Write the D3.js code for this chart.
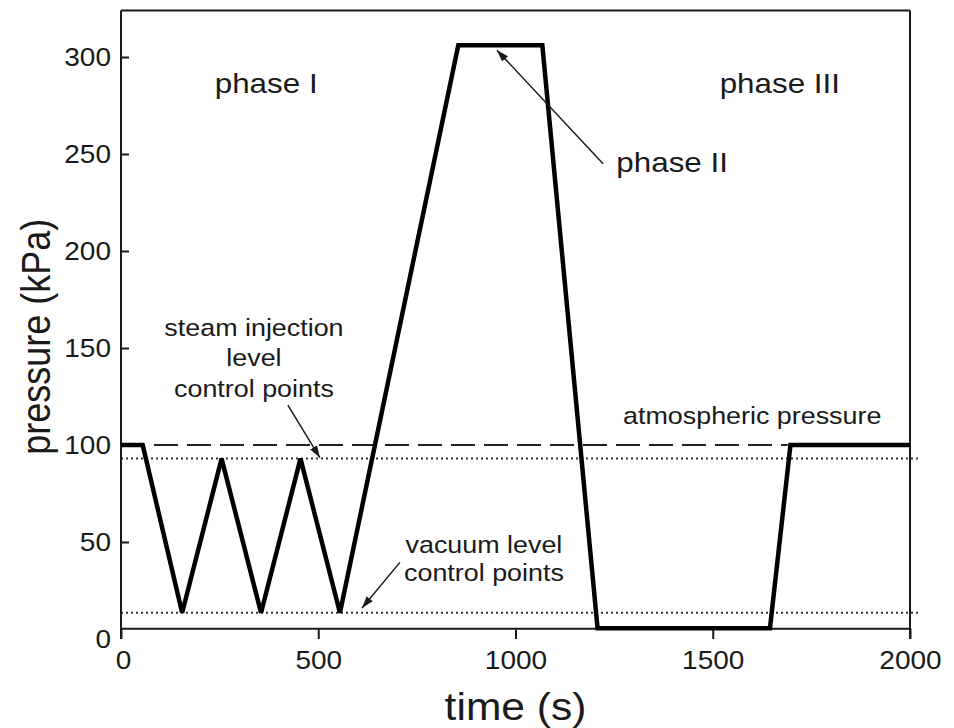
<!DOCTYPE html>
<html>
<head>
<meta charset="utf-8">
<script src="https://cdn.jsdelivr.net/npm/d3@7"></script>
<style>
  body { margin: 0; background: #fff; }
  text { font-family: "Liberation Sans", Arial, sans-serif; fill: #1a1a1a; }
</style>
</head>
<body>
<div id="chart"></div>
<script>
// pressure profile (time in s, pressure in kPa)
const times     = [0, 55, 155, 255, 355, 455, 555, 855, 1068, 1208, 1645, 1697, 2000];
const pressures = [100, 100, 13.5, 93, 13.5, 93, 13.5, 306, 306, 5.5, 5.5, 100, 100];

const xTicks = [0, 500, 1000, 1500, 2000];
const yTicks = [0, 50, 100, 150, 200, 250, 300];

const atmospheric = 100;
const atmosphericEnd = 1690;
const steamLevel = 93;
const vacuumLevel = 13.5;
const axisFloor = 5.5;
const yTop = 324;

// annotation arrows, [fromTime, fromPressure, toTime, toPressure]
const arrows = [
    [1222, 245, 953, 303.5],
    [423, 120.5, 504, 93.5],
    [707, 39.5, 611, 16]
];

// labels: [text, time, pressure, fontSize]
const labels = [
    ['phase I', 368, 281.5, 28],
    ['phase III', 1670, 281.5, 28],
    ['phase II', 1397, 240.5, 28],
    ['steam injection', 337, 156, 24],
    ['level', 337, 140.5, 24],
    ['control points', 337, 125, 24],
    ['atmospheric pressure', 1600, 111, 24],
    ['vacuum level', 920, 44.5, 24],
    ['control points', 920, 30, 24]
];

const width = 954;
const height = 728;
const stretch = 1.12;

const svg = d3.select('#chart').append('svg')
    .attr('width', width)
    .attr('height', height);

const x = d3.scaleLinear().domain([0, 2000]).range([121, 910]);
const y = d3.scaleLinear().domain([0, 300]).range([639, 57]);

svg.append('defs').append('marker')
    .attr('id', 'head')
    .attr('viewBox', '0 0 12 8')
    .attr('refX', 12)
    .attr('refY', 4)
    .attr('markerWidth', 12)
    .attr('markerHeight', 8)
    .attr('markerUnits', 'userSpaceOnUse')
    .attr('orient', 'auto')
    .append('path')
    .attr('d', 'M0,0 L12,4 L0,8 Z')
    .attr('fill', '#1a1a1a');

// reference lines
svg.append('line')
    .attr('x1', x(0)).attr('x2', x(atmosphericEnd))
    .attr('y1', y(atmospheric)).attr('y2', y(atmospheric))
    .attr('stroke', '#222').attr('stroke-width', 2)
    .attr('stroke-dasharray', '24,9');

[steamLevel, vacuumLevel].forEach(v => {
    svg.append('line')
        .attr('x1', x(0)).attr('x2', x(2020))
        .attr('y1', y(v)).attr('y2', y(v))
        .attr('stroke', '#333').attr('stroke-width', 2)
        .attr('stroke-dasharray', '2,3');
});

// frame
svg.append('line')
    .attr('x1', x(0)).attr('x2', x(2000))
    .attr('y1', y(yTop)).attr('y2', y(yTop))
    .attr('stroke', '#1a1a1a').attr('stroke-width', 2);
svg.append('line')
    .attr('x1', x(2000)).attr('x2', x(2000))
    .attr('y1', y(yTop)).attr('y2', y(0))
    .attr('stroke', '#1a1a1a').attr('stroke-width', 2);
svg.append('line')
    .attr('x1', x(0)).attr('x2', x(0))
    .attr('y1', y(yTop)).attr('y2', y(0))
    .attr('stroke', '#1a1a1a').attr('stroke-width', 2);

// axes
const yAxis = d3.axisLeft(y)
    .tickValues(yTicks)
    .tickSizeInner(-8)
    .tickSizeOuter(0)
    .tickPadding(10);
const gy = svg.append('g')
    .attr('transform', `translate(${x(0)},0)`)
    .call(yAxis);
gy.select('.domain').remove();
gy.selectAll('.tick line')
    .attr('stroke', '#1a1a1a').attr('stroke-width', 2)
    .attr('display', d => d === 0 ? 'none' : null);
gy.selectAll('.tick text')
    .attr('font-size', 25)
    .attr('fill', '#1a1a1a')
    .attr('font-family', '"Liberation Sans", Arial, sans-serif')
    .attr('x', 0)
    .attr('transform', `translate(-10,0) scale(${stretch},1)`);

const xAxis = d3.axisBottom(x)
    .tickValues(xTicks)
    .tickFormat(d3.format('d'))
    .tickSizeInner(y(0) - y(axisFloor))
    .tickSizeOuter(0)
    .tickPadding(12);
const gx = svg.append('g')
    .attr('transform', `translate(0,${y(axisFloor)})`)
    .call(xAxis);
gx.select('.domain').attr('stroke', '#1a1a1a').attr('stroke-width', 2);
gx.selectAll('.tick line').attr('stroke', '#1a1a1a').attr('stroke-width', 2);
gx.selectAll('.tick text')
    .attr('font-size', 25)
    .attr('fill', '#1a1a1a')
    .attr('font-family', '"Liberation Sans", Arial, sans-serif')
    .attr('transform', d => `translate(${d === 0 ? 2 : 0},0) scale(${stretch},1)`)
    .attr('x', 0);

// profile
const line = d3.line()
    .x((d, i) => x(times[i]))
    .y(d => y(d));

svg.append('path')
    .datum(pressures)
    .attr('d', line)
    .attr('fill', 'none')
    .attr('stroke', '#000')
    .attr('stroke-width', 4.5)
    .attr('stroke-linejoin', 'miter');

// arrows
svg.selectAll('.arrow')
    .data(arrows)
    .enter()
    .append('line')
    .attr('class', 'arrow')
    .attr('x1', d => x(d[0])).attr('y1', d => y(d[1]))
    .attr('x2', d => x(d[2])).attr('y2', d => y(d[3]))
    .attr('stroke', '#1a1a1a')
    .attr('stroke-width', 1.5)
    .attr('marker-end', 'url(#head)');

// labels
svg.selectAll('.label')
    .data(labels)
    .enter()
    .append('text')
    .attr('class', 'label')
    .attr('text-anchor', 'middle')
    .attr('font-size', d => d[3])
    .attr('transform', d => `translate(${x(d[1])},${y(d[2])}) scale(${stretch},1)`)
    .text(d => d[0]);

// axis titles
svg.append('text')
    .attr('text-anchor', 'middle')
    .attr('font-size', 38)
    .attr('transform', `translate(${x(1000)},${720}) scale(${stretch},1)`)
    .text('time (s)');

svg.append('text')
    .attr('text-anchor', 'middle')
    .attr('font-size', 36)
    .attr('transform', `translate(${50},${(y(0) + y(yTop)) / 2 + 12}) rotate(-90) scale(1,${stretch})`)
    .text('pressure (kPa)');
</script>
</body>
</html>
